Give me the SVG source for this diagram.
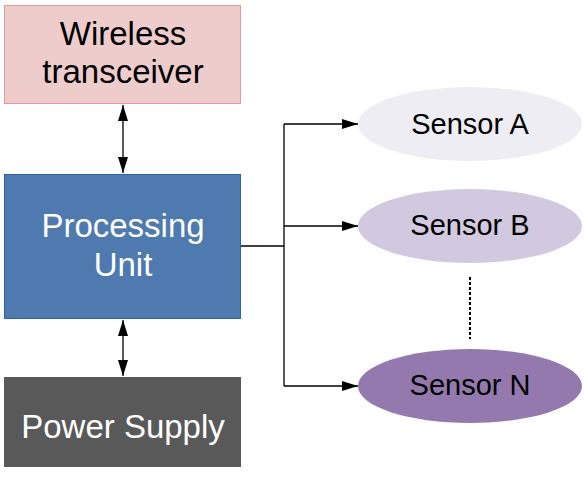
<svg xmlns="http://www.w3.org/2000/svg" width="584" height="478" viewBox="0 0 584 478">
<defs>
<marker id="ah" viewBox="0 0 16 10" refX="16" refY="5" markerWidth="16" markerHeight="10" markerUnits="userSpaceOnUse" orient="auto-start-reverse">
<path d="M0,0 L16,5 L0,10 Z" fill="#000"/>
</marker>
<style>
text{font-family:"Liberation Sans",Arial,sans-serif;text-anchor:middle}
.big{font-size:33px}
.sen{font-size:29px;fill:#000}
.ln{stroke:#000;stroke-width:1.3;fill:none}
</style>
</defs>
<rect width="584" height="478" fill="#fff"/>
<g id="wireless">
<rect x="4.5" y="5.5" width="236" height="98" fill="#eecccc" stroke="#e39b9b"/>
<text class="big" x="123" y="45" fill="#000">Wireless</text>
<text class="big" x="123" y="83" fill="#000">transceiver</text>
</g>
<g id="processing">
<rect x="4.5" y="174.5" width="236" height="144" fill="#4e7ab0" stroke="#2f62a3"/>
<text class="big" x="123" y="237" fill="#fff">Processing</text>
<text class="big" x="123" y="276" fill="#fff">Unit</text>
</g>
<g id="power">
<rect x="4" y="377" width="237" height="90" fill="#595959"/>
<text class="big" x="123" y="438" fill="#fff">Power Supply</text>
</g>
<g id="sensorA">
<ellipse cx="470" cy="124" rx="112" ry="37" fill="#efedf4"/>
<text class="sen" x="470" y="134">Sensor A</text>
</g>
<g id="sensorB">
<ellipse cx="470" cy="226" rx="112" ry="37" fill="#d2c9e0"/>
<text class="sen" x="470" y="235">Sensor B</text>
</g>
<g id="sensorN">
<ellipse cx="470" cy="386" rx="112" ry="37" fill="#9379ad"/>
<text class="sen" x="470" y="395">Sensor N</text>
</g>
<g id="connectors">
<line class="ln" x1="123" y1="105" x2="123" y2="173" marker-start="url(#ah)" marker-end="url(#ah)"/>
<line class="ln" x1="123" y1="320" x2="123" y2="376" marker-start="url(#ah)" marker-end="url(#ah)"/>
<polyline class="ln" points="241,246 284,246"/>
<line class="ln" x1="284" y1="124" x2="284" y2="386"/>
<line class="ln" x1="284" y1="124" x2="358" y2="124" marker-end="url(#ah)"/>
<line class="ln" x1="284" y1="226" x2="358" y2="226" marker-end="url(#ah)"/>
<line class="ln" x1="284" y1="386" x2="358" y2="386" marker-end="url(#ah)"/>
<line x1="470" y1="277" x2="470" y2="339" stroke="#000" stroke-width="2" stroke-dasharray="3,2"/>
</g>
</svg>
